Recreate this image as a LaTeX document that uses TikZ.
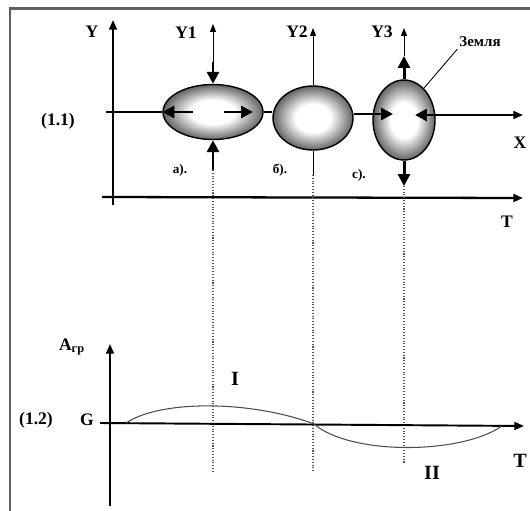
\documentclass[tikz,border=0pt]{standalone}
\usepackage{fontspec}
\setmainfont{Liberation Serif}
\usepackage{tikz}
\usetikzlibrary{shapes.geometric, arrows.meta, positioning}
\definecolor{framegray}{RGB}{95, 95, 95}
\definecolor{earthgray}{RGB}{100, 100, 100}
\definecolor{guidegray}{RGB}{85, 85, 85}
\pgfdeclareradialshading{earthglow}{\pgfpoint{0bp}{0bp}}{color(0bp)=(white); color(11bp)=(white); color(25bp)=(earthgray); color(50bp)=(earthgray)}

\begin{document}
\begin{tikzpicture}[x=0.02cm, y=-0.02cm,
    earth/.style={ellipse, draw=black, line width=0.8pt, shade, shading=earthglow, inner sep=0pt},
    lbl/.style={font=\bfseries\fontsize{10}{12}\selectfont, inner sep=1pt},
    biglbl/.style={font=\bfseries\fontsize{11.5}{13}\selectfont, inner sep=1pt},
    caselbl/.style={font=\bfseries\fontsize{7.5}{9}\selectfont, inner sep=1pt},
    namelbl/.style={font=\bfseries\fontsize{8.5}{10}\selectfont, inner sep=1pt},
    mainaxis/.style={line width=1.1pt, -{Triangle[length=5.5pt, width=4.5pt]}},
    plainaxis/.style={line width=1.1pt},
    thinup/.style={line width=0.5pt, -{Triangle[length=4.5pt, width=3.4pt]}},
    vline/.style={line width=0.5pt},
    push/.style={line width=1.7pt, -{Triangle[length=6.8pt, width=6.8pt]}},
    guide/.style={densely dotted, line width=0.6pt, guidegray},
    wave/.style={line width=0.6pt, black!70}
]
    \useasboundingbox (0,0) rectangle (530,510);
    % frame
    \draw[framegray, line width=1.4pt] (10,520) -- (10,8.5) -- (540,8.5);

    % upper picture (1.1)
    \node[earth, minimum width=2cm, minimum height=1.1cm] (e1) at (213,112) {};
    \node[earth, minimum width=1.6cm, minimum height=1.28cm] (e2) at (313,118) {};
    \node[earth, minimum width=1.24cm, minimum height=1.6cm] (e3) at (404,120) {};

    \node[lbl] (ylab) at (92,32) {Y};
    \node[lbl] (y1lab) at (186,33) {Y1};
    \node[lbl] (y2lab) at (297,32) {Y2};
    \node[lbl] (y3lab) at (382,32) {Y3};
    \node[lbl] (eq1) at (58,121) {(1.1)};
    \node[lbl] (xlab) at (520,143) {X};
    \node[lbl] (tlab1) at (507,222) {T};
    \node[caselbl] (casea) at (180,170) {а).};
    \node[caselbl] (caseb) at (280,170) {б).};
    \node[caselbl] (casec) at (359,175) {с).};
    \node[namelbl] (zemlya) at (480,42) {Земля};

    \coordinate (ybot) at (113,205);
    \coordinate (ytop) at (113,20);
    \coordinate (xstart) at (106,112);
    \coordinate (xend) at (523,115);
    \coordinate (tstart) at (102,197);
    \coordinate (tend) at (523,198);
    \draw[mainaxis] (ybot) -- (ytop);
    \draw[mainaxis, line width=1.3pt] (tstart) -- (tend);

    \draw[plainaxis] (xstart) -- (e1.west);
    \draw[plainaxis] (e1.east) -- (e1.east -| e2.west);
    \coordinate (c3in) at (393,114);
    \coordinate (c3out) at (415,115);
    \draw[plainaxis] (e2.east |- c3in) -- (e3.west |- c3in);
    \draw[push] (e3.west |- c3in) -- (c3in);
    \draw[push] (e3.east |- c3out) -- (c3out);
    \draw[mainaxis] (e3.east |- c3out) -- (xend);

    % squeezed along Y, stretched along X
    \coordinate (e1l) at (193,112);
    \coordinate (e1r) at (224,112);
    \coordinate (e1rt) at (253,112);
    \draw[push] (e1l) -- (e1.west);
    \draw[push] (e1r) -- (e1rt);

    \coordinate (y1top) at (213,24);
    \coordinate (y1mid) at (213,62);
    \coordinate (y1bot) at (213,170);
    \coordinate (y1end) at (213,472);
    \draw[thinup] (y1mid) -- (y1top);
    \draw[push] (y1mid) -- (e1.north);
    \draw[push] (y1bot) -- (e1.south);
    \draw[guide] (y1bot) -- (y1end);

    \coordinate (y2top) at (313,28);
    \coordinate (y2bot) at (313,175);
    \coordinate (y2end) at (313,472);
    \draw[thinup] (e2.north) -- (y2top);
    \draw[vline] (e2.south) -- (y2bot);
    \draw[guide] (y2bot) -- (y2end);

    \coordinate (y3top) at (404,28);
    \coordinate (y3mid) at (404,56);
    \coordinate (y3bot) at (404,186);
    \coordinate (y3end) at (404,463);
    \draw[thinup] (y3mid) -- (y3top);
    \draw[push] (e3.north) -- (y3mid);
    \draw[push] (e3.south) -- (y3bot);
    \draw[guide] (y3bot) -- (y3end);

    \draw[vline] (e3.58) -- (zemlya.south west);

    % lower picture (1.2)
    \node[lbl] (agr) at (72,347) {A\textsubscript{гр}};
    \node[lbl] (eq2) at (36,420) {(1.2)};
    \node[lbl] (glab) at (87,420) {G};
    \node[biglbl] (one) at (235,379) {I};
    \node[biglbl] (two) at (432,473) {II};
    \node[biglbl] (tlab2) at (520,461) {T};

    \coordinate (abot) at (110,506);
    \coordinate (atop) at (110,344);
    \coordinate (gstart) at (100,423);
    \coordinate (gend) at (524,426);
    \draw[mainaxis] (abot) -- (atop);
    \draw[mainaxis] (gstart) -- (gend);

    \coordinate (w0) at (126,423);
    \coordinate (w1) at (314,424);
    \coordinate (w2) at (502,426);
    \draw[wave] (w0) .. controls (160,400) and (250,400) .. (w1);
    \draw[wave] (w1) .. controls (350,455) and (460,455) .. (w2);
\end{tikzpicture}
\end{document}
